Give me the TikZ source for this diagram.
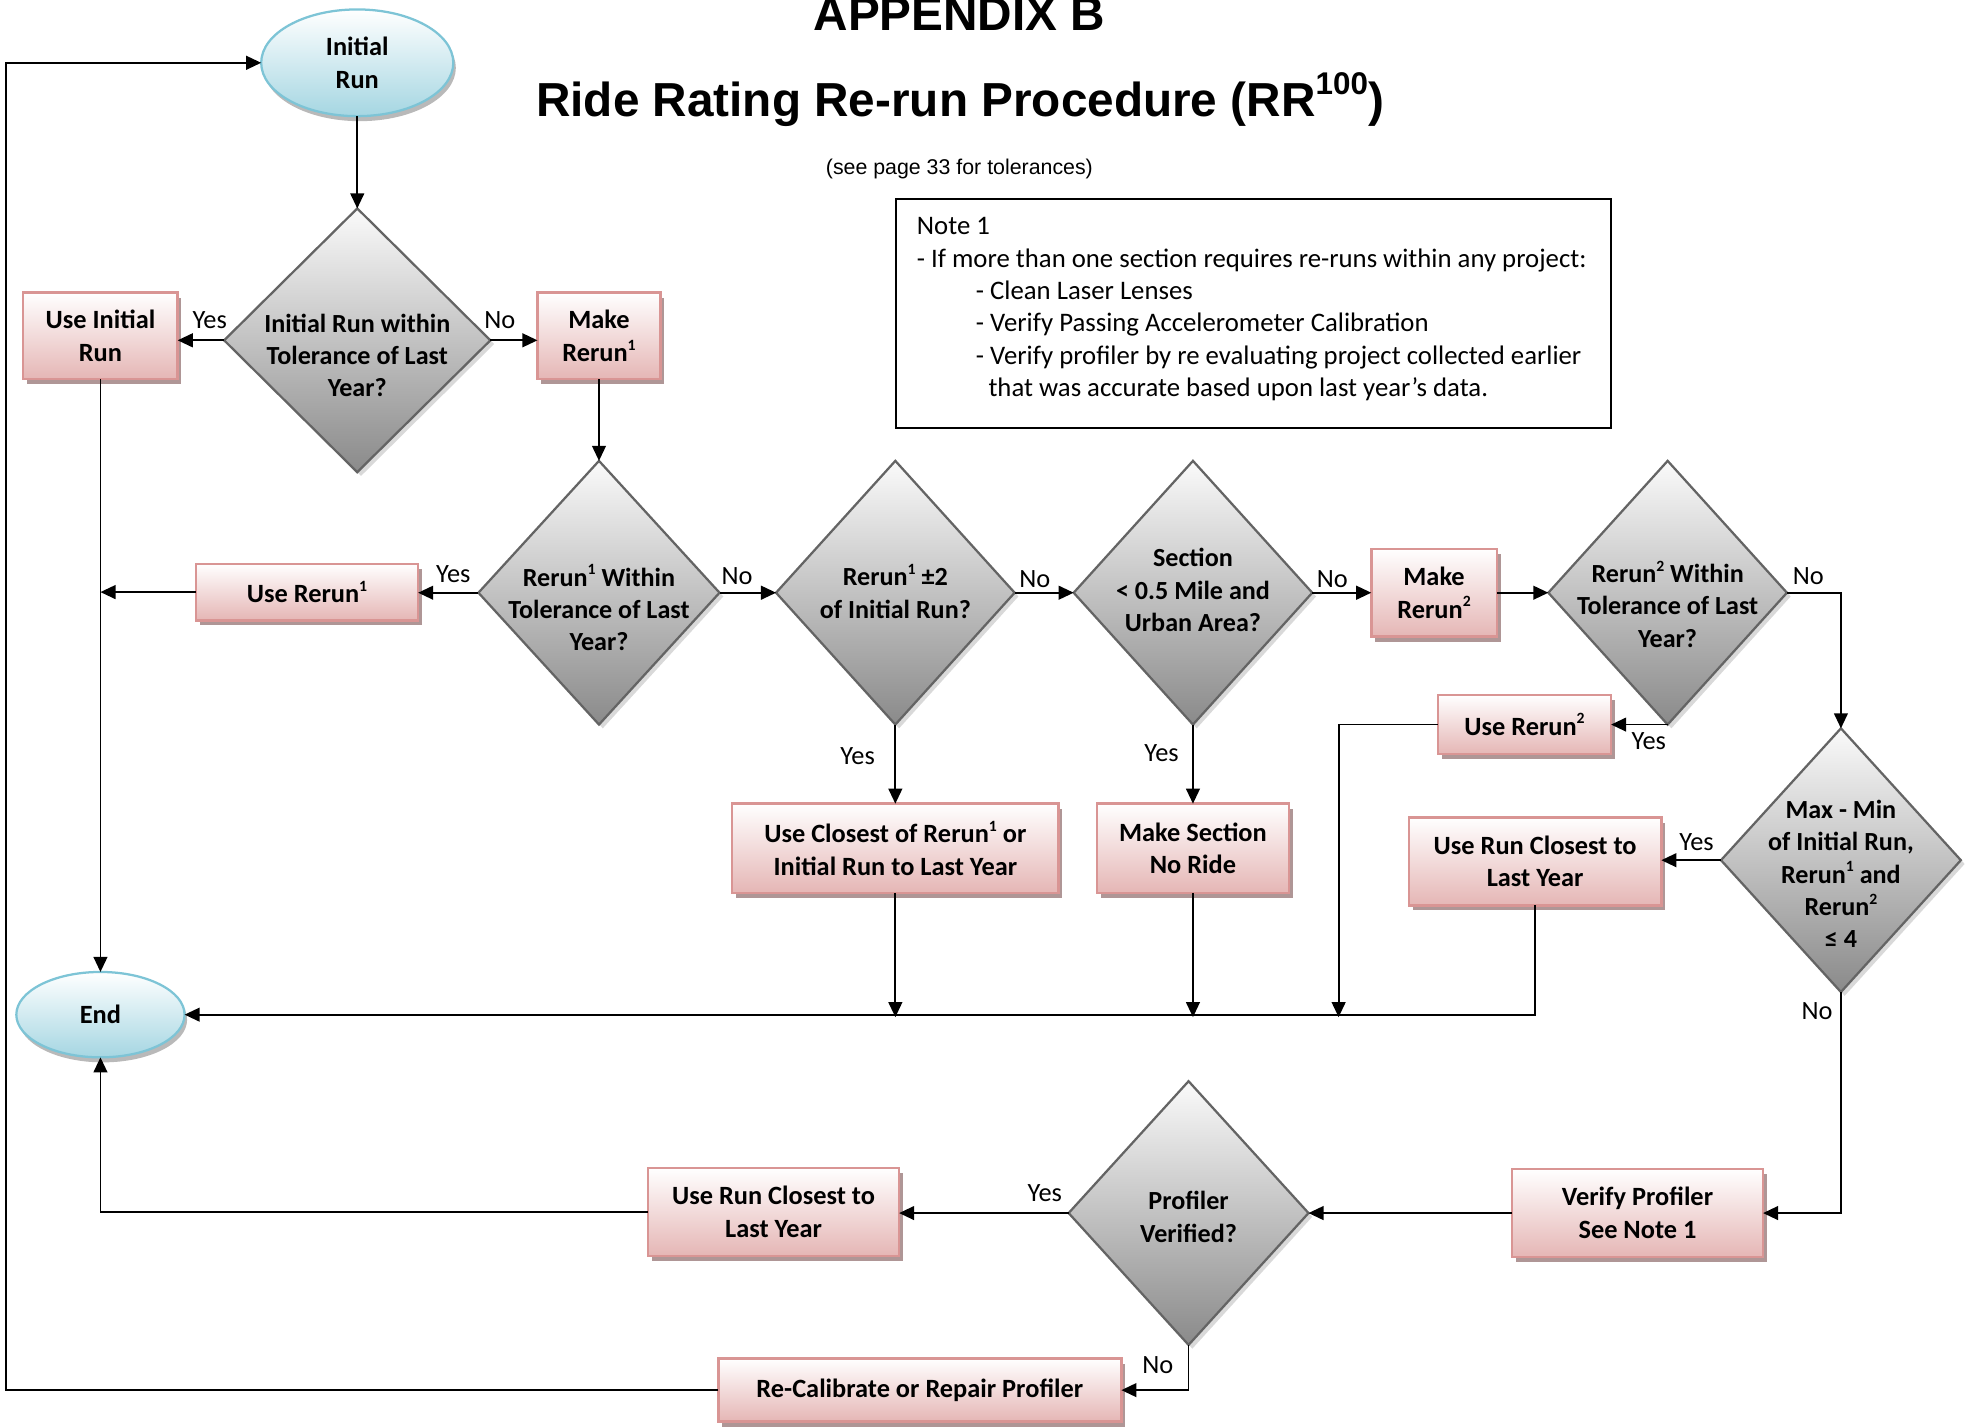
\documentclass[tikz,border=0pt]{standalone}
\usepackage{fontspec}
\setmainfont{Carlito}
\newfontfamily\arialf{Liberation Sans}
\usetikzlibrary{shapes.geometric,arrows.meta,shadows}
\definecolor{boxbot}{RGB}{229,182,181}
\definecolor{boxline}{RGB}{217,149,148}
\definecolor{boxshadow}{RGB}{175,150,150}
\definecolor{diatop}{RGB}{250,250,250}
\definecolor{diabot}{RGB}{138,138,138}
\definecolor{dialine}{RGB}{100,100,100}
\definecolor{ellbot}{RGB}{165,214,226}
\definecolor{ellline}{RGB}{125,196,214}
\newcommand\spx[1]{\raisebox{9pt}{\fontsize{12.5}{12.5}\selectfont #1}}
\tikzset{
  pbox/.style={rectangle, draw=boxline, line width=2pt, top color=white, bottom color=boxbot,
    inner sep=0pt, outer sep=0pt, align=center, font=\fontsize{21}{26}\selectfont\bfseries,
    drop shadow={shadow xshift=3pt, shadow yshift=-4pt, fill=boxshadow, opacity=1}},
  dia/.style={diamond, draw=dialine, line width=1.8pt, top color=diatop, bottom color=diabot,
    inner sep=0pt, outer sep=0pt, minimum width=190pt, minimum height=210pt,
    drop shadow={shadow xshift=3pt, shadow yshift=-3pt, fill=gray!30, opacity=1}},
  dtext/.style={align=center, font=\fontsize{20.8}{25.8}\selectfont\bfseries, inner sep=0pt},
  ell/.style={ellipse, draw=ellline, line width=1.8pt, top color=white, bottom color=ellbot,
    inner sep=0pt, outer sep=0pt, align=center, font=\fontsize{21}{26}\selectfont\bfseries,
    drop shadow={shadow xshift=2pt, shadow yshift=-4pt, fill=gray!55, opacity=1}},
  arr/.style={-{Triangle[length=12pt,width=11pt]}, line width=1.4pt},
  lbl/.style={font=\fontsize{21}{24}\selectfont, inner sep=0pt}
}
\begin{document}
\begin{tikzpicture}[x=1pt,y=-1pt]
\useasboundingbox (0,0) rectangle (1568,1136);
% titles
\node[anchor=base, font=\arialf\bfseries\fontsize{38}{40}\selectfont] (ttl1) at (764,24) {APPENDIX B};
\node[anchor=base, font=\arialf\bfseries\fontsize{38}{40}\selectfont] (ttl2) at (764.5,93)
  {Ride Rating Re-run Procedure (RR\raisebox{18pt}{\fontsize{25}{25}\selectfont 100})};
\node[anchor=base, font=\arialf\fontsize{17}{20}\selectfont] (ttl3) at (764,139) {(see page 33 for tolerances)};
% note
\node[draw=black, line width=1.6pt, minimum width=569pt, minimum height=182pt, anchor=north west,
  inner sep=0pt] (note) at (713,158) {};
\node[anchor=north west, align=left, inner sep=0pt, font=\fontsize{21.3}{25.8}\selectfont] (notetxt) at (730,173)
  {Note 1\\
   - If more than one section requires re-runs within any project:\\
   \hspace*{47pt}- Clean Laser Lenses\\
   \hspace*{47pt}- Verify Passing Accelerometer Calibration\\
   \hspace*{47pt}- Verify profiler by re evaluating project collected earlier\\
   \hspace*{57pt}that was accurate based upon last year’s data.};
% nodes
\node[ell, minimum width=153pt, minimum height=85pt] (init) at (284.5,50) {Initial\\Run};
\node[ell, minimum width=134pt, minimum height=68pt] (end) at (80,808) {End};
\node[dia, minimum width=212pt] (d1) at (284.5,271) {};
\node[dtext] (d1t) at (284.5,283) {Initial Run within\\Tolerance of Last\\Year?};
\node[pbox, minimum width=123pt, minimum height=69pt] (useinit) at (80,267.5) {Use Initial\\Run};
\node[pbox, minimum width=98pt, minimum height=69pt] (make1) at (477,267.5) {Make\\Rerun\spx{1}};
\node[dia, minimum width=192pt] (d2) at (477,472) {};
\node[dtext] (d2t) at (477,484) {Rerun\spx{1} Within\\Tolerance of Last\\Year?};
\node[pbox, minimum width=177pt, minimum height=45pt] (user1) at (244.5,471.5) {Use Rerun\spx{1}};
\node[dia] (d3) at (713,472) {};
\node[dtext] (d3t) at (713,471) {Rerun\spx{1} ±2\\of Initial Run?};
\node[dia] (d4) at (950,472) {};
\node[dtext] (d4t) at (950,470) {Section\\< 0.5 Mile and\\Urban Area?};
\node[pbox, minimum width=100pt, minimum height=70pt] (make2) at (1142,472) {Make\\Rerun\spx{2}};
\node[dia] (d5) at (1328,472) {};
\node[dtext] (d5t) at (1328,481) {Rerun\spx{2} Within\\Tolerance of Last\\Year?};
\node[pbox, minimum width=138pt, minimum height=47pt] (user2) at (1214,577) {Use Rerun\spx{2}};
\node[dia, minimum width=191pt] (d6) at (1466,685) {};
\node[dtext] (d6t) at (1466,696) {Max - Min\\of Initial Run,\\Rerun\spx{1} and\\Rerun\spx{2}\\≤ 4};
\node[pbox, minimum width=260pt, minimum height=71pt] (closest1) at (713,675.5) {Use Closest of Rerun\spx{1} or\\Initial Run to Last Year};
\node[pbox, minimum width=153pt, minimum height=71pt] (noride) at (950,675.5) {Make Section\\No Ride};
\node[pbox, minimum width=201pt, minimum height=70pt] (closest2) at (1222.5,686) {Use Run Closest to\\Last Year};
\node[pbox, minimum width=200pt, minimum height=70pt] (verify) at (1304,966) {Verify Profiler\\See Note 1};
\node[dia, minimum width=191pt] (d7) at (946.5,966) {};
\node[dtext] (d7t) at (946.5,969) {Profiler\\Verified?};
\node[pbox, minimum width=200pt, minimum height=70pt] (closest3) at (616,965) {Use Run Closest to\\Last Year};
\node[pbox, minimum width=321pt, minimum height=50pt] (recal) at (732.5,1107) {Re-Calibrate or Repair Profiler};
\coordinate (lp) at (5,0);
\coordinate (j2) at (1066,810);
% connectors
\draw[arr] (recal.west) -- (recal.west -| lp) |- (init.west);
\draw[arr] (init.south) -- (d1.north);
\draw[arr] (d1.west) -- (d1.west -| useinit.east);
\draw[arr] (d1.east) -- (d1.east -| make1.west);
\draw[arr] (make1.south) -- (d2.north);
\draw[arr] (useinit.south) -- (end.north);
\draw[arr] (d2.west) -- (d2.west -| user1.east);
\draw[arr] (user1.west) -- (user1.west -| end.north);
\draw[arr] (d2.east) -- (d3.west);
\draw[arr] (d3.east) -- (d4.west);
\draw[arr] (d4.east) -- (d4.east -| make2.west);
\draw[arr] (make2.east) -- (make2.east -| d5.west);
\draw[arr] (d5.east) -| (d6.north);
\draw[arr] (d5.south) -- (d5.south -| user2.east);
\draw[arr] (user2.west) -| (j2);
\draw[arr] (d3.south) -- (closest1.north);
\draw[arr] (d4.south) -- (noride.north);
\draw[arr] (closest1.south) -- (closest1.south |- j2);
\draw[arr] (noride.south) -- (noride.south |- j2);
\draw[arr] (closest2.south) |- (end.east);
\draw[arr] (d6.west) -- (d6.west -| closest2.east);
\draw[arr] (d6.south) |- (verify.east);
\draw[arr] (verify.west) -- (verify.west -| d7.east);
\draw[arr] (d7.west) -- (d7.west -| closest3.east);
\draw[arr] (closest3.west) -| (end.south);
\draw[arr] (d7.south) |- (recal.east);
% labels
\node[lbl] (l1) at (167,255) {Yes};
\node[lbl] (l2) at (398,255) {No};
\node[lbl] (l3) at (361,457) {Yes};
\node[lbl] (l4) at (587,459) {No};
\node[lbl] (l5) at (824,461) {No};
\node[lbl] (l6) at (1061,461) {No};
\node[lbl] (l7) at (1440,459) {No};
\node[lbl] (l8) at (1313,590) {Yes};
\node[lbl] (l9) at (683,602) {Yes};
\node[lbl] (l10) at (925,600) {Yes};
\node[lbl] (l11) at (1351,671) {Yes};
\node[lbl] (l12) at (1447,805) {No};
\node[lbl] (l13) at (832,950) {Yes};
\node[lbl] (l14) at (922,1087) {No};
\end{tikzpicture}
\end{document}
